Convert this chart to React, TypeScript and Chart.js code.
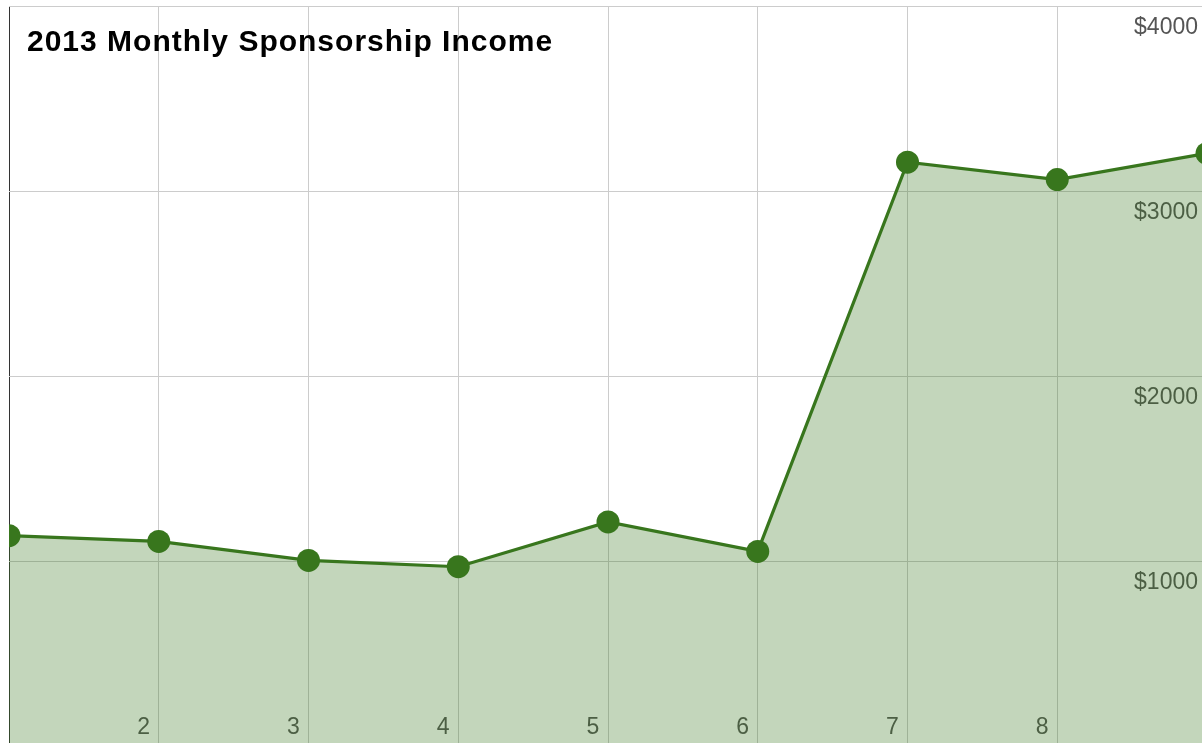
import React, { useEffect, useRef } from "react";
import { Chart, registerables } from "chart.js";

Chart.register(...registerables);

const TITLE = "2013 Monthly Sponsorship Income";
const months = ["1", "2", "3", "4", "5", "6", "7", "8", "9"];
const income = [1137, 1106, 1003, 969, 1211, 1052, 3156, 3062, 3203];
const shownMonthLabels = ["2", "3", "4", "5", "6", "7", "8"];
const Y_MIN = 0;
const Y_MAX = 4000;
const Y_STEP = 1000;

const LINE = "#38761d";
const FILL = "rgba(56,118,29,0.3)";
const FONT = '"Liberation Sans", Arial, sans-serif';

const CANVAS_W = 1220;
const CANVAS_H = 760;

const titlePlugin = {
  id: "insideTitle",
  afterDraw(chart: any) {
    const ctx = chart.ctx;
    ctx.save();
    ctx.font = `bold 30px ${FONT}`;
    try {
      (ctx as any).letterSpacing = "1px";
    } catch (e) {}
    ctx.fillStyle = "#000";
    ctx.textBaseline = "alphabetic";
    ctx.textAlign = "left";
    ctx.fillText(TITLE, 27, 51);
    ctx.restore();
  },
};

const zeroPadding = (s: any) => {
  s.paddingTop = 0;
  s.paddingBottom = 0;
  s.paddingLeft = 0;
  s.paddingRight = 0;
};

export default function App() {
  const ref = useRef<HTMLCanvasElement | null>(null);

  useEffect(() => {
    if (!ref.current) return;
    const chart = new Chart(ref.current, {
      type: "line",
      data: {
        labels: months,
        datasets: [
          {
            data: income,
            borderColor: LINE,
            backgroundColor: FILL,
            borderWidth: 3.2,
            fill: "origin",
            tension: 0,
            pointRadius: 11.5,
            pointBackgroundColor: LINE,
            pointBorderWidth: 0,
            pointHoverRadius: 11.5,
            clip: 0,
          } as any,
        ],
      },
      options: {
        animation: false,
        responsive: false,
        devicePixelRatio: 1,
        layout: {
          autoPadding: false,
          padding: { left: 9, top: 6, right: CANVAS_W - 1207, bottom: CANVAS_H - 746 },
        },
        plugins: {
          legend: { display: false },
          title: { display: false },
          tooltip: { enabled: false },
        },
        scales: {
          x: {
            type: "category",
            offset: false,
            border: { display: false },
            grid: {
              color: (c: any) => (c.index === 0 ? "#333" : "#ccc"),
              lineWidth: 1,
              drawTicks: false,
            },
            ticks: {
              autoSkip: false,
              maxRotation: 0,
              mirror: true,
              padding: 5,
              labelOffset: -15,
              color: "#555",
              font: { family: FONT, size: 23 },
              textStrokeColor: "#fff",
              textStrokeWidth: 4,
              callback: (_v: any, i: number) =>
                shownMonthLabels.includes(months[i]) ? months[i] : "",
            } as any,
            afterFit: (s: any) => {
              s.height = 0;
              zeroPadding(s);
            },
          },
          y: {
            position: "right",
            min: Y_MIN,
            max: Y_MAX,
            border: { display: false },
            grid: { color: "#ccc", lineWidth: 1, drawTicks: false },
            ticks: {
              stepSize: Y_STEP,
              mirror: true,
              padding: -9,
              labelOffset: 22,
              color: "#555",
              font: { family: FONT, size: 23 },
              textStrokeColor: "#fff",
              textStrokeWidth: 4,
              callback: (v: any) => (Number(v) === 0 ? "" : "$" + v),
            } as any,
            afterFit: (s: any) => {
              s.width = 0;
              zeroPadding(s);
            },
          },
        },
      },
      plugins: [titlePlugin],
    });
    return () => chart.destroy();
  }, []);

  return (
    <div
      style={{
        position: "fixed",
        left: 0,
        top: 0,
        width: 1202,
        height: 743,
        overflow: "hidden",
        background: "#fff",
      }}
    >
      <canvas
        ref={ref}
        width={CANVAS_W}
        height={CANVAS_H}
        style={{ display: "block", width: CANVAS_W, height: CANVAS_H }}
      />
    </div>
  );
}
